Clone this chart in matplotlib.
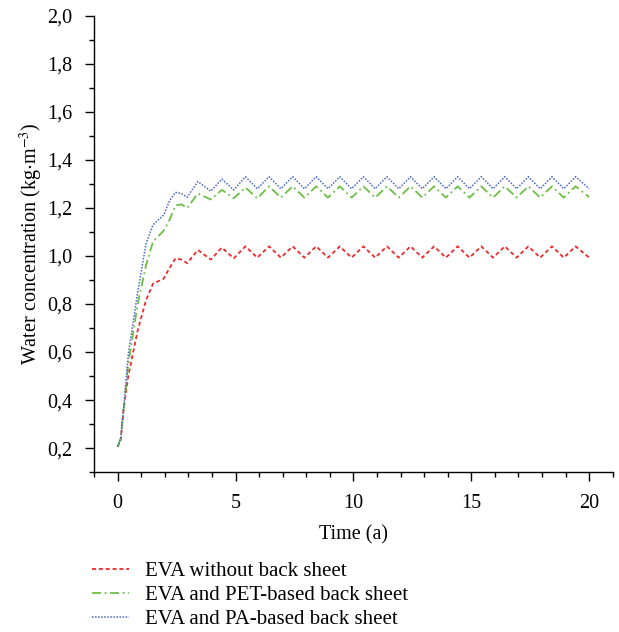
import matplotlib
matplotlib.use("Agg")
import matplotlib.pyplot as plt
from matplotlib.ticker import MultipleLocator, FuncFormatter

# time (years) -- rise phase, then peak / trough of each yearly cycle
time = [0, 0.13, 0.25, 0.45, 0.85, 1.2, 1.5, 1.95, 2.2, 2.45, 2.7, 2.95,
        3.4, 3.95, 4.42, 4.92, 5.42, 5.92, 6.42, 6.92, 7.42, 7.92, 8.42, 8.92,
        9.42, 9.92, 10.42, 10.92, 11.42, 11.92, 12.42, 12.92, 13.42, 13.92,
        14.42, 14.92, 15.42, 15.92, 16.42, 16.92, 17.42, 17.92, 18.42, 18.92,
        19.42, 20.0]

eva_only = [0.205, 0.235, 0.36, 0.50, 0.69, 0.815, 0.885, 0.905, 0.95, 0.99, 0.985, 0.97,
            1.025, 0.985, 1.035, 0.99, 1.04, 0.993, 1.04, 0.993, 1.04, 0.993, 1.04, 0.993,
            1.04, 0.993, 1.04, 0.993, 1.04, 0.993, 1.04, 0.993, 1.04, 0.993,
            1.04, 0.993, 1.04, 0.993, 1.04, 0.993, 1.04, 0.993, 1.04, 0.993,
            1.04, 0.993]

eva_pet = [0.205, 0.24, 0.36, 0.55, 0.80, 0.96, 1.06, 1.105, 1.15, 1.21, 1.215, 1.20,
           1.26, 1.235, 1.275, 1.24, 1.285, 1.24, 1.29, 1.243, 1.29, 1.243, 1.29, 1.243,
           1.29, 1.243, 1.29, 1.243, 1.29, 1.243, 1.29, 1.243, 1.29, 1.243,
           1.29, 1.243, 1.29, 1.243, 1.29, 1.243, 1.29, 1.243, 1.29, 1.243,
           1.29, 1.245]

eva_pa = [0.205, 0.245, 0.36, 0.59, 0.85, 1.05, 1.13, 1.17, 1.23, 1.265, 1.26, 1.245,
          1.31, 1.27, 1.32, 1.275, 1.33, 1.28, 1.33, 1.28, 1.33, 1.28, 1.33, 1.28,
          1.33, 1.28, 1.33, 1.28, 1.33, 1.28, 1.33, 1.28, 1.33, 1.28,
          1.33, 1.28, 1.33, 1.28, 1.33, 1.28, 1.33, 1.28, 1.33, 1.28,
          1.33, 1.28]

labels = ["EVA without back sheet", "EVA and PET-based back sheet", "EVA and PA-based back sheet"]

plt.rcParams["font.family"] = ["Liberation Serif", "DejaVu Serif"]
plt.rcParams["mathtext.fontset"] = "stix"
plt.rcParams["font.size"] = 14.5

fig = plt.figure(figsize=(6.19, 6.32), dpi=100)
ax = fig.add_axes([0.152, 0.253, 0.838, 0.722])

ax.plot(time, eva_only, color="#ee2a2a", lw=1.3, ls=(0, (2.2, 1.6)), label=labels[0])
ax.plot(time, eva_pet, color="#6cbf45", lw=1.3, ls=(0, (5, 2, 1, 2)), label=labels[1])
ax.plot(time, eva_pa, color="#4a68c4", lw=1.1, ls=(0, (1, 1)), label=labels[2])

ax.set_xlim(-1, 21)
ax.set_ylim(0.1, 2.0)
ax.xaxis.set_major_locator(MultipleLocator(5))
ax.xaxis.set_minor_locator(MultipleLocator(1))
ax.yaxis.set_minor_locator(MultipleLocator(0.1))
ax.set_yticks([0.2, 0.4, 0.6, 0.8, 1.0, 1.2, 1.4, 1.6, 1.8, 2.0])
ax.yaxis.set_major_formatter(FuncFormatter(lambda v, p: f"{v:.1f}".replace(".", ",")))

for s in ["top", "right"]:
    ax.spines[s].set_visible(False)
for s in ["left", "bottom"]:
    ax.spines[s].set_linewidth(1.0)
ax.tick_params(which="major", direction="out", length=6.5, width=1.0)
ax.tick_params(which="minor", direction="out", length=3.3, width=1.0)
ax.tick_params(axis="x", which="major", pad=9)
ax.tick_params(axis="y", which="major", pad=9)

ax.set_xlabel("Time (a)", labelpad=9)
ax.set_ylabel("Water concentration (kg$\\cdot$m$^{-3}$)", labelpad=2)

fig.legend(loc="upper left", bbox_to_anchor=(0.149, 0.112), frameon=False,
           handlelength=1.75, handletextpad=0.8, labelspacing=0.22,
           borderpad=0, borderaxespad=0, fontsize=15)

fig.savefig("out.png", dpi=100)
